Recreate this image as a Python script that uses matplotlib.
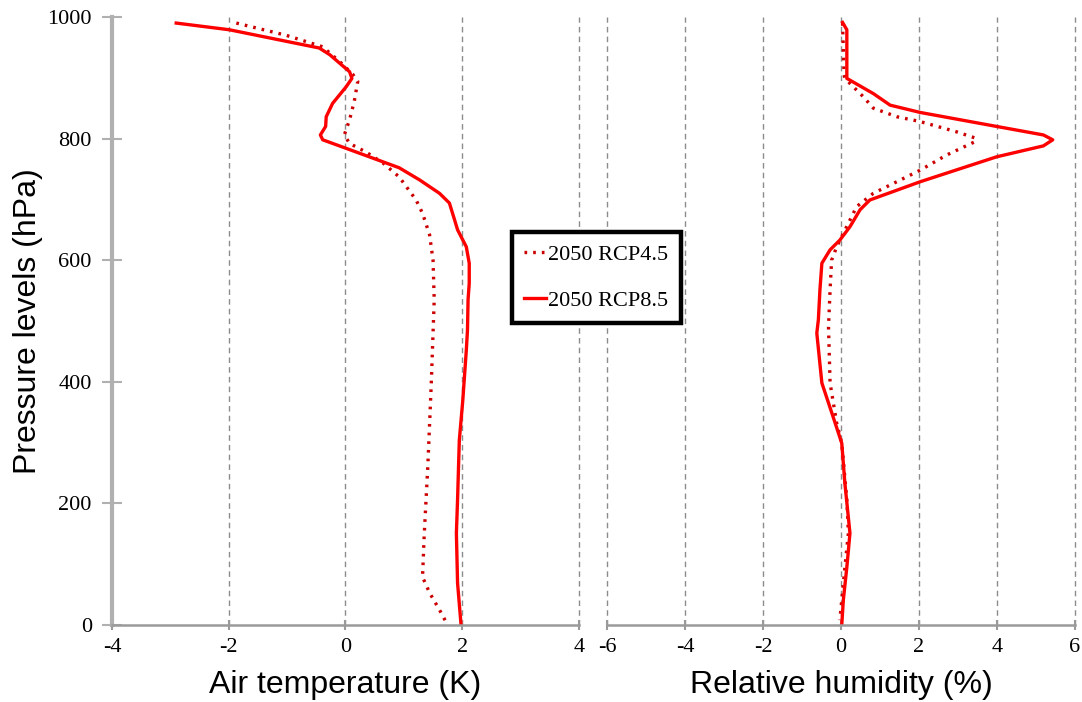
import matplotlib
matplotlib.use("Agg")
import matplotlib.pyplot as plt

# Air temperature change (K) vs pressure (hPa)
t85_p = [990, 979, 949, 938, 910, 899, 885, 858, 836, 820, 806, 798, 784, 765, 752, 732, 710, 694, 666, 650, 622, 595, 562, 535, 485, 452, 370, 304, 206, 151, 69, 0]
t85_v = [-2.90, -1.99, -0.45, -0.27, 0.07, 0.11, 0.01, -0.22, -0.33, -0.34, -0.43, -0.39, 0.01, 0.55, 0.92, 1.27, 1.61, 1.78, 1.87, 1.92, 2.07, 2.12, 2.12, 2.10, 2.09, 2.07, 2.01, 1.95, 1.92, 1.90, 1.92, 1.98]
t45_p = [990, 970, 951, 924, 905, 894, 861, 831, 806, 792, 778, 760, 737, 699, 677, 642, 600, 535, 480, 398, 260, 151, 79, 53, 25, 0]
t45_v = [-1.87, -1.02, -0.39, -0.07, 0.13, 0.21, 0.15, 0.07, -0.02, 0.07, 0.35, 0.64, 0.92, 1.21, 1.32, 1.44, 1.50, 1.52, 1.50, 1.47, 1.41, 1.35, 1.32, 1.44, 1.61, 1.75]

# Relative humidity change (%) vs pressure (hPa)
h85_p = [991, 979, 946, 905, 899, 874, 855, 843, 820, 806, 798, 788, 770, 729, 699, 683, 655, 633, 617, 595, 551, 502, 480, 398, 342, 299, 233, 151, 95, 41, 0]
h85_v = [0.04, 0.15, 0.15, 0.15, 0.15, 0.83, 1.26, 2.03, 3.99, 5.19, 5.43, 5.19, 3.99, 2.03, 0.74, 0.49, 0.23, -0.03, -0.28, -0.49, -0.54, -0.58, -0.62, -0.49, -0.20, 0.02, 0.10, 0.23, 0.15, 0.06, 0.02]
h45_p = [990, 946, 905, 899, 869, 850, 836, 828, 811, 801, 795, 773, 748, 710, 688, 666, 622, 600, 551, 490, 398, 332, 299, 206, 151, 95, 41, 8]
h45_v = [0.04, 0.06, 0.08, 0.10, 0.57, 0.83, 1.43, 2.03, 2.97, 3.44, 3.44, 2.71, 2.03, 0.83, 0.40, 0.23, -0.11, -0.24, -0.28, -0.32, -0.28, -0.11, 0.02, 0.15, 0.19, 0.10, 0.02, -0.03]

labels = ["2050 RCP4.5", "2050 RCP8.5"]
y_ticks = [0, 200, 400, 600, 800, 1000]
xt_left = [-4, -2, 0, 2, 4]
xt_right = [-6, -4, -2, 0, 2, 4, 6]

SERIF = ["Liberation Serif", "DejaVu Serif"]
SANS = ["Liberation Sans", "DejaVu Sans"]

fig = plt.figure(figsize=(10.82, 7.02), dpi=100)
axL = fig.add_axes([0.1035, 0.1097, 0.4316, 0.8661])
axR = fig.add_axes([0.561, 0.1097, 0.4325, 0.8661])

dot_col = "#cc0000"
solid_col = "#ff0000"
dot_ls = (0, (0.8, 1.8))

l45, = axL.plot(t45_v, t45_p, color=dot_col, lw=2.4, ls=dot_ls, label=labels[0])
l85, = axL.plot(t85_v, t85_p, color=solid_col, lw=2.4, label=labels[1],
                solid_joinstyle="round")
axR.plot(h45_v, h45_p, color=dot_col, lw=2.4, ls=dot_ls)
axR.plot(h85_v, h85_p, color=solid_col, lw=2.4, solid_joinstyle="round")

for ax, xt in ((axL, xt_left), (axR, xt_right)):
    ax.set_ylim(0, 1000)
    ax.set_xlim(xt[0], xt[-1])
    ax.set_xticks(xt)
    ax.set_xticklabels([str(v) if v >= 0 else "-" + str(-v) for v in xt],
                       fontfamily=SERIF, fontsize=16)
    ax.set_yticks(y_ticks)
    ax.grid(axis="x", color="#8c8c8c", ls=(0, (4, 3)), lw=1.0)
    for gl in ax.get_xgridlines():
        gl.set_clip_on(False)
    ax.set_axisbelow(True)
    for s in ("top", "right"):
        ax.spines[s].set_visible(False)
    ax.spines["bottom"].set_color("#9a9a9a")
    ax.spines["bottom"].set_linewidth(1.8)
    ax.tick_params(axis="x", direction="inout", length=7, width=1.5, color="#9a9a9a", pad=6)

axL.spines["left"].set_color("#b0b0b0")
axL.spines["left"].set_linewidth(3)
axL.tick_params(axis="y", direction="inout", length=15, width=1.5, color="#b0b0b0", pad=7)
axL.set_yticklabels([str(v) for v in y_ticks], fontfamily=SERIF, fontsize=16)

axR.spines["left"].set_visible(False)
axR.tick_params(axis="y", left=False, labelleft=False)

axL.set_ylabel("Pressure levels (hPa)", fontfamily=SANS, fontsize=23, labelpad=3)
axL.set_xlabel("Air temperature (K)", fontfamily=SANS, fontsize=23, labelpad=9)
axR.set_xlabel("Relative humidity (%)", fontfamily=SANS, fontsize=23, labelpad=9)

leg = fig.legend(handles=[l45, l85], labels=labels, loc="upper left",
                 bbox_to_anchor=(0.473, 0.6695), prop={"family": SERIF, "size": 16},
                 frameon=True, fancybox=False, handlelength=1.0, handletextpad=0.1,
                 labelspacing=1.15, borderpad=0.55, borderaxespad=0)
leg.get_frame().set_edgecolor("black")
leg.get_frame().set_linewidth(3.2)
leg.get_frame().set_facecolor("white")
leg.get_frame().set_alpha(1)

fig.savefig("out.png", dpi=100)
